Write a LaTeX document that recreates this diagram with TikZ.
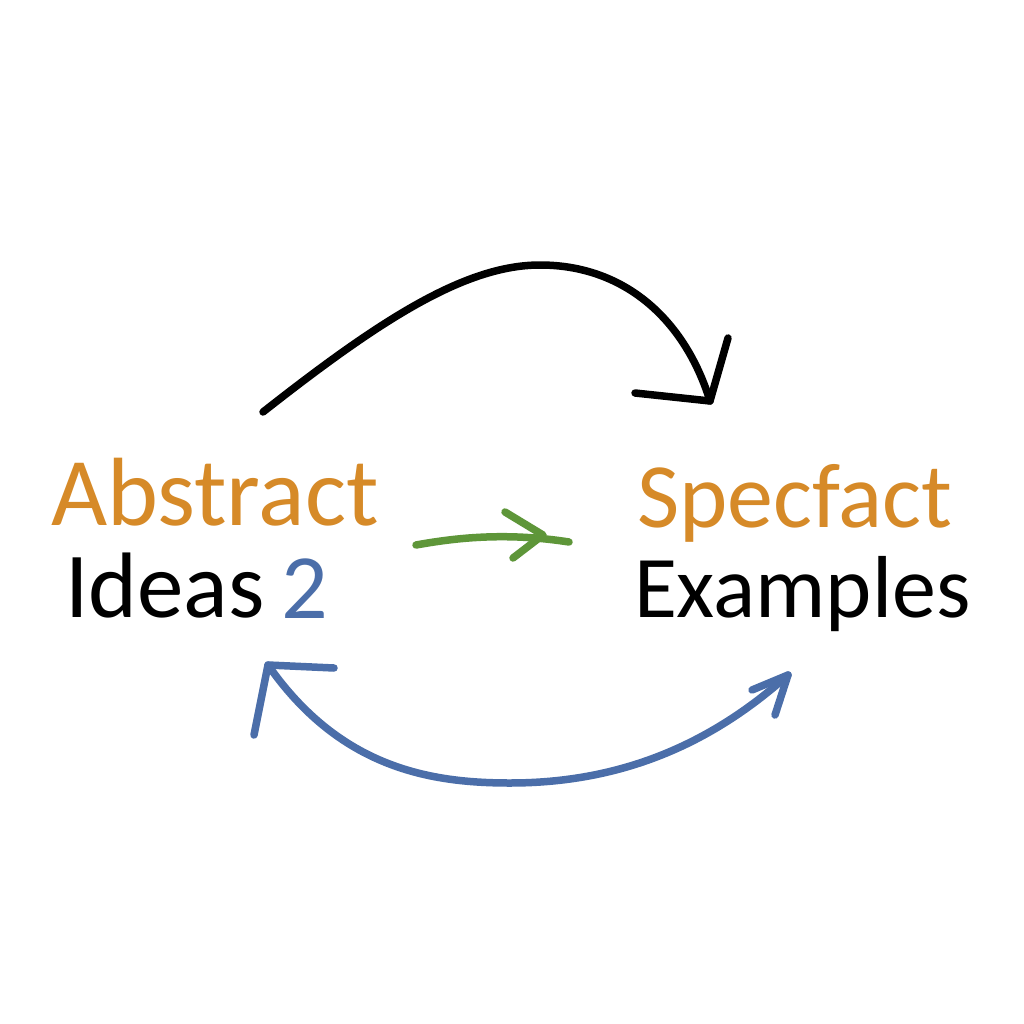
\documentclass[tikz,border=0pt]{standalone}
\usepackage{fontspec}
\setmainfont{Carlito}
\definecolor{absorange}{HTML}{D68A28}
\definecolor{arrblue}{HTML}{4B6EA9}
\definecolor{arrgreen}{HTML}{5E9639}
\begin{document}
\begin{tikzpicture}[x=1pt,y=-1pt,
  lbl/.style={anchor=base west,inner sep=0pt,outer sep=0pt},
  stroke/.style={line width=7.5pt,line cap=round,line join=round}]
\fill[white] (0,0) rectangle (1024,1024);
\useasboundingbox (0,0) rectangle (1024,1024);
% labels
\node[lbl,text=absorange,font=\fontsize{97}{97}\selectfont] (abs) at (51,525) {Abstract};
\node[lbl,text=black,font=\fontsize{93}{93}\selectfont] (ideas) at (65,617) {Ideas};
\node[lbl,text=arrblue,font=\fontsize{92}{92}\selectfont] (two) at (281,618) {2};
\node[lbl,text=absorange,font=\fontsize{92}{92}\selectfont] (spec) at (637,527) {Specfact};
\node[lbl,text=black,font=\fontsize{88}{88}\selectfont] (ex) at (634,617) {Examples};
% black arrow
\coordinate (bs) at (263,412);
\coordinate (bt) at (710,401);
\coordinate (ba1) at (728,338);
\coordinate (ba2) at (635,393);
\draw[stroke,black] (bs) .. controls (380,320) and (465,265) .. (540,265)
  .. controls (625,265) and (685,320) .. (bt);
\draw[stroke,black] (ba1) -- (bt) -- (ba2);
% green arrow
\coordinate (gs) at (416,545);
\coordinate (ge) at (569,542);
\coordinate (gv) at (543,535);
\coordinate (ga1) at (505,512);
\coordinate (ga2) at (513,558);
\draw[stroke,arrgreen] (gs) .. controls (455,538) and (505,532) .. (ge);
\draw[stroke,arrgreen] (ga1) -- (gv) -- (ga2);
% blue arrow
\coordinate (ul) at (268,665);
\coordinate (ur) at (788,675);
\coordinate (ul1) at (334,668);
\coordinate (ul2) at (254,735);
\coordinate (ur1) at (752,690);
\coordinate (ur2) at (775,715);
\draw[stroke,arrblue] (ul) .. controls (340,768) and (430,783) .. (510,783)
  .. controls (620,783) and (710,745) .. (ur);
\draw[stroke,arrblue] (ul1) -- (ul) -- (ul2);
\draw[stroke,arrblue] (ur1) -- (ur) -- (ur2);
\end{tikzpicture}
\end{document}
